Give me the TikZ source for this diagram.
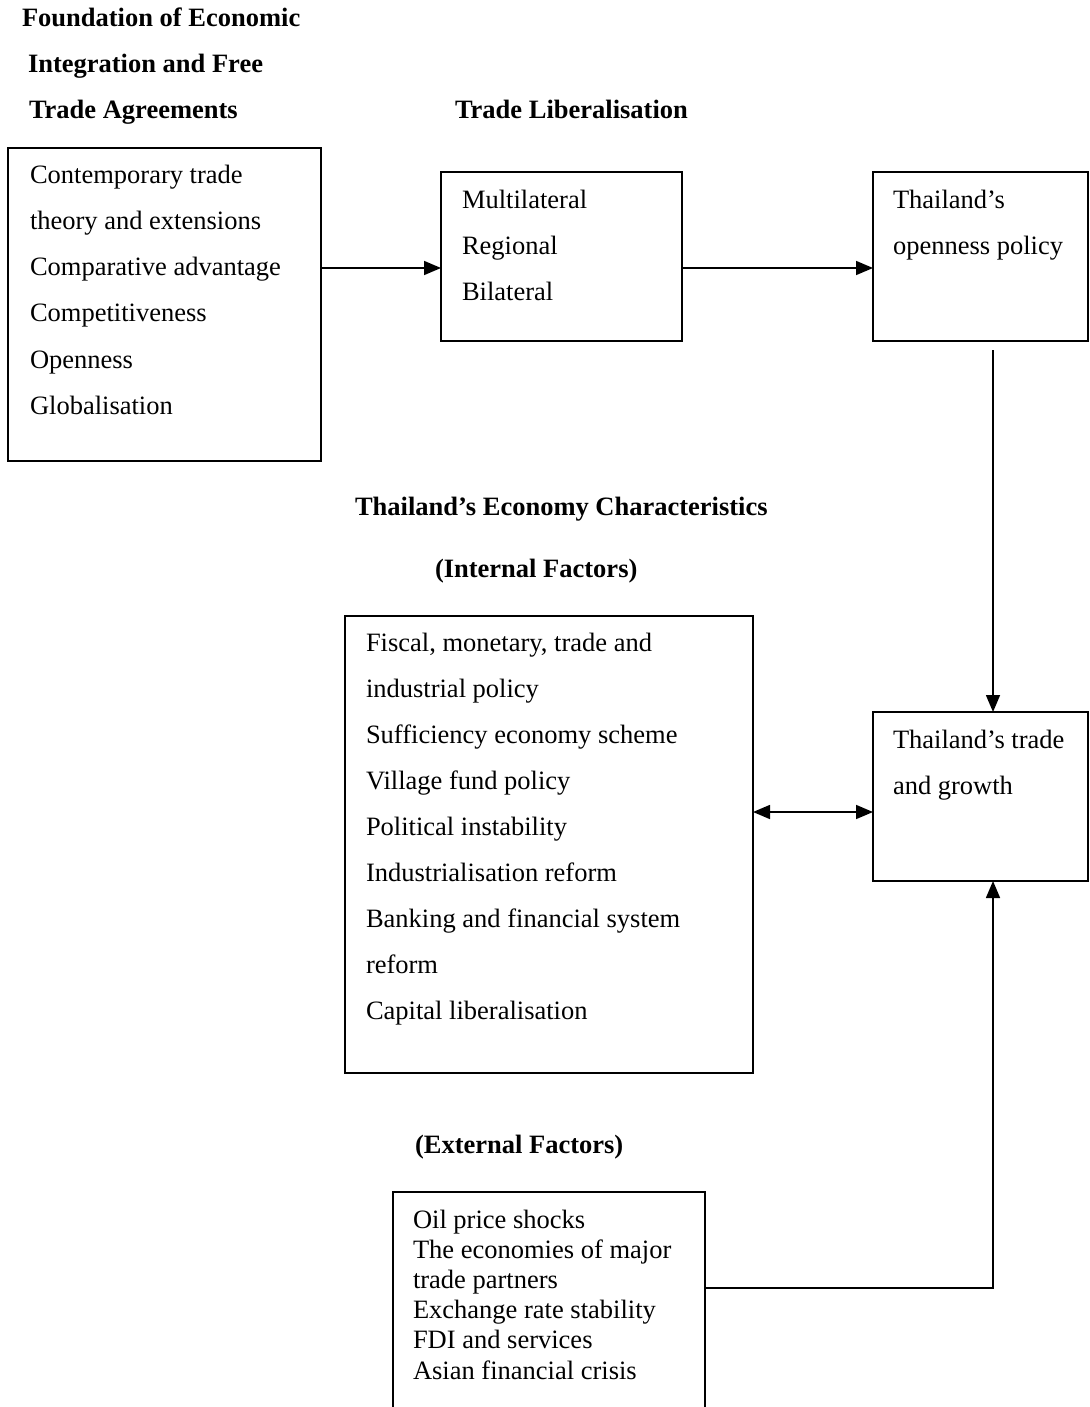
\documentclass[tikz,border=0pt]{standalone}
\usepackage{fontspec}
\setmainfont{Liberation Serif}
\usetikzlibrary{arrows.meta}
\newcommand\stk[2]{\vtop{\baselineskip=#1\relax\lineskiplimit=-100pt\relax #2}}
\tikzset{
  box/.style={draw, line width=1.6pt, rectangle, inner sep=0pt, outer sep=0pt, anchor=north west},
  txt/.style={inner sep=0pt, outer sep=0pt, anchor=base west, font=\fontsize{26.5}{30}\selectfont},
  head/.style={txt, font=\fontsize{26.5}{30}\selectfont\bfseries},
  tip/.tip={Triangle[length=17pt,width=14pt]},
  arr/.style={line width=1.6pt, -tip},
  darr/.style={line width=1.6pt, tip-tip}
}
\begin{document}
\begin{tikzpicture}[x=1pt,y=-1pt]
\useasboundingbox[fill=white] (0,0) rectangle (1089,1407);
% headings
\node[head] (h1) at (22,27) {Foundation of Economic};
\node[head] (h2) at (28,73) {Integration and Free};
\node[head] (h3) at (29,119) {Trade Agreements};
\node[head] (h4) at (455,119) {Trade Liberalisation};
\node[head] (h5) at (355,515) {Thailand’s Economy Characteristics};
\node[head] (h6) at (435,577) {(Internal Factors)};
\node[head] (h7) at (415,1153) {(External Factors)};
% boxes
\node[box, minimum width=313pt, minimum height=313pt] (fb) at (8,148) {};
\node[box, minimum width=241pt, minimum height=169pt] (tl) at (441,172) {};
\node[box, minimum width=215pt, minimum height=169pt] (op) at (873,172) {};
\node[box, minimum width=408pt, minimum height=457pt] (ie) at (345,616) {};
\node[box, minimum width=215pt, minimum height=169pt] (tg) at (873,712) {};
\node[box, minimum width=312pt, minimum height=230pt] (ex) at (393,1192) {};
% box texts
\node[txt] (fbt) at (30,184) {\stk{46pt}{\hbox{Contemporary trade}\hbox{theory and extensions}\hbox{Comparative advantage}\hbox{Competitiveness}\hbox{Openness}\hbox{Globalisation}}};
\node[txt] (tlt) at (462,208) {\stk{46pt}{\hbox{Multilateral}\hbox{Regional}\hbox{Bilateral}}};
\node[txt] (opt) at (893,208) {\stk{46pt}{\hbox{Thailand’s}\hbox{openness policy}}};
\node[txt] (iet) at (366,651) {\stk{46pt}{\hbox{Fiscal, monetary, trade and}\hbox{industrial policy}\hbox{Sufficiency economy scheme}\hbox{Village fund policy}\hbox{Political instability}\hbox{Industrialisation reform}\hbox{Banking and financial system}\hbox{reform}\hbox{Capital liberalisation}}};
\node[txt] (tgt) at (893,748) {\stk{46pt}{\hbox{Thailand’s trade}\hbox{and growth}}};
\node[txt] (ext) at (413,1228) {\stk{30.2pt}{\hbox{Oil price shocks}\hbox{The economies of major}\hbox{trade partners}\hbox{Exchange rate stability}\hbox{FDI and services}\hbox{Asian financial crisis}}};
% connectors
\coordinate (r1) at (0,268);
\coordinate (r2) at (0,812);
\coordinate (r3) at (0,1288);
\coordinate (v) at (993,350);
\draw[arr] (fb.east |- r1) -- (tl.west |- r1);
\draw[arr] (tl.east |- r1) -- (op.west |- r1);
\draw[arr] (v) -- (v |- tg.north);
\draw[darr] (ie.east |- r2) -- (tg.west |- r2);
\draw[arr] (ex.east |- r3) -| (v |- tg.south);
\end{tikzpicture}
\end{document}
